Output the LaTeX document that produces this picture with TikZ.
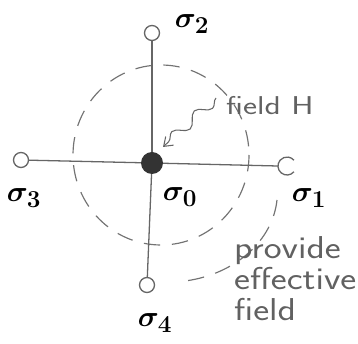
\documentclass[tikz,border=0pt]{standalone}
\usepackage{fontspec}
\usetikzlibrary{decorations.pathmorphing,arrows.meta}
\begin{document}
\begin{tikzpicture}[x=0.03cm,y=-0.03cm,
  ink/.style={draw=black!60, line width=1.1pt},
  site/.style={circle, draw=black!60, line width=1.1pt, fill=white, minimum size=15*0.03cm, inner sep=0pt},
  centre/.style={circle, fill=black!80, minimum size=22*0.03cm, inner sep=0pt},
  dashring/.style={draw=black!55, line width=1pt, dash pattern=on 14pt off 10pt},
  lab/.style={font=\fontsize{28}{32}\selectfont\boldmath, inner sep=0pt},
  hand/.style={text=black!62, font=\sffamily, inner sep=0pt}]
\useasboundingbox (0,0) rectangle (358,344);
% dashed circles
\draw[dashring] (161,155) ellipse [x radius=88, y radius=90];
\draw[dashring] (277,200) arc [start angle=5, end angle=80, x radius=110, y radius=90];
% nodes
\node[site] (s2) at (152,33) {};
\node[site] (s3) at (21,160) {};
\node[circle, minimum size=18*0.03cm, inner sep=0pt] (s1) at (287,166) {};
\node[site] (s4) at (147,285) {};
\node[centre] (s0) at (152,163) {};
% bonds
\draw[ink] (s2) -- (s0);
\draw[ink] (s0) -- (s1.west);
\draw[ink] (s0) -- (s4);
\draw[ink] (s3) -- (s0);
\draw[ink] ([shift={(40:9)}]s1.center) arc [start angle=40, end angle=320, radius=9];
% labels
\node[lab] (l2) at (192,24) {$\sigma_2$};
\node[lab] (l3) at (24,198) {$\sigma_3$};
\node[lab] (l0) at (180,197) {$\sigma_0$};
\node[lab] (l1) at (309,198) {$\sigma_1$};
\node[lab] (l4) at (155,323) {$\sigma_4$};
% field H
\node[hand, anchor=west] (fh) at (226,106)
  {\scalebox{1.3}[1]{\fontsize{22}{26}\selectfont field H}};
\coordinate (tip) at (163,147);
\draw[ink, line width=0.9pt, -{Straight Barb[length=7pt,width=10pt]},
  decorate, decoration={snake, amplitude=4.5pt, segment length=26pt, post length=6pt}]
  (216,98) -- (tip);
% provide effective field
\node[hand, anchor=north west] (pe) at (234,236)
  {\scalebox{1.2}[1]{\fontsize{27}{26}\selectfont
   \begin{tabular}{@{}l@{}}provide\\effective\\field\end{tabular}}};
\end{tikzpicture}
\end{document}
